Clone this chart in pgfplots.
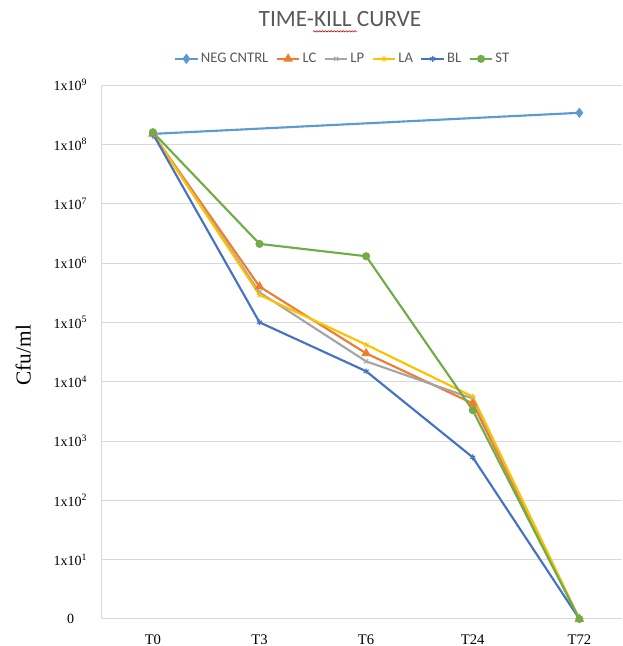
\documentclass[border=0pt]{standalone}
\usepackage{fontspec}
\setmainfont{Liberation Serif}
\newfontfamily\calibri{Carlito}
\usepackage{pgfplots}
\pgfplotsset{compat=1.18}
\usetikzlibrary{decorations.pathmorphing}

\definecolor{negc}{HTML}{5B9BD5}
\definecolor{lcc}{HTML}{ED7D31}
\definecolor{lpc}{HTML}{A5A5A5}
\definecolor{lac}{HTML}{FFC000}
\definecolor{blc}{HTML}{4472C4}
\definecolor{stc}{HTML}{70AD47}
\definecolor{gridc}{HTML}{D9D9D9}
\definecolor{txtc}{HTML}{595959}

\begin{document}
\begin{tikzpicture}
\path[use as bounding box] (0,0) rectangle (466.5pt,484.5pt);
\begin{axis}[
  at={(76.3pt,20.25pt)}, anchor=south west,
  scale only axis, width=390.2pt, height=400.5pt,
  xmin=-0.48, xmax=4.40,
  ymode=log, log basis y=10, ymin=1, ymax=1e9,
  xtick={0,1,2,3,4}, xticklabels={T0,T3,T6,T24,T72},
  ytick={1,1e1,1e2,1e3,1e4,1e5,1e6,1e7,1e8,1e9},
  yticklabels={0,1x10\textsuperscript{1},1x10\textsuperscript{2},1x10\textsuperscript{3},1x10\textsuperscript{4},1x10\textsuperscript{5},1x10\textsuperscript{6},1x10\textsuperscript{7},1x10\textsuperscript{8},1x10\textsuperscript{9}},
  ymajorgrids, grid style={gridc, line width=0.75pt},
  axis x line*=bottom, axis y line*=left,
  axis line style={-, gridc, line width=0.75pt},
  tick style={draw=none}, minor tick num=0,
  yticklabel style={font=\fontsize{10.5}{12}\selectfont, text width=29pt, align=center, inner sep=0pt, anchor=east, xshift=-8.7pt},
  xticklabel style={font=\fontsize{11}{13}\selectfont, anchor=base, inner sep=0pt, yshift=-19.1pt},
  ylabel={Cfu/ml},
  ylabel style={at={(axis description cs:-0.151,0.494)}, anchor=center, font=\fontsize{16}{18}\selectfont},
  clip=false,
  every axis plot/.append style={line width=1.6pt, mark size=2.2pt},
  legend style={at={(axis description cs:0.463,1.049)}, anchor=center, draw=none, fill=none,
    font=\calibri\fontsize{11}{13}\selectfont, text=txtc, legend columns=6,
    /tikz/every even column/.append style={column sep=4pt},
    inner sep=0pt, nodes={inner sep=1.5pt}},
  legend image code/.code={\draw[mark repeat=2, mark phase=2, #1] plot coordinates {(0pt,0pt) (8.5pt,0pt) (17pt,0pt)};},
]
% negative control: counted at start and end only
\addplot[negc, mark=diamond*, mark size=2.6pt] coordinates {(0,1.5e8) (4,3.4e8)};
\addlegendentry{NEG CNTRL}
\addplot[lcc, mark=triangle*, mark size=2.6pt] coordinates {(0,1.5e8) (1,4.0e5) (2,3.0e4) (3,4.3e3) (4,1)};
\addlegendentry{LC}
\addplot[lpc, mark=x, mark options={line width=0.8pt}] coordinates {(0,1.5e8) (1,3.2e5) (2,2.2e4) (3,5.2e3) (4,1)};
\addlegendentry{LP}
\addplot[lac, mark=star, mark options={line width=0.8pt}] coordinates {(0,1.5e8) (1,2.9e5) (2,4.2e4) (3,5.6e3) (4,1)};
\addlegendentry{LA}
\addplot[blc, mark=asterisk, mark options={line width=0.8pt}] coordinates {(0,1.5e8) (1,1.0e5) (2,1.5e4) (3,5.3e2) (4,1)};
\addlegendentry{BL}
\addplot[stc, mark=*] coordinates {(0,1.6e8) (1,2.1e6) (2,1.3e6) (3,3.3e3) (4,1)};
\addlegendentry{ST}
\end{axis}
\node[font=\calibri\fontsize{17.5}{20}\selectfont, text=txtc, anchor=base] at (255pt,464.5pt) {TIME-KILL CURVE};
\draw[red!80!black, line width=0.45pt, decorate, decoration={snake, amplitude=0.5pt, segment length=2.2pt}] (234.75pt,461pt) -- (267.75pt,461pt);
\end{tikzpicture}
\end{document}
